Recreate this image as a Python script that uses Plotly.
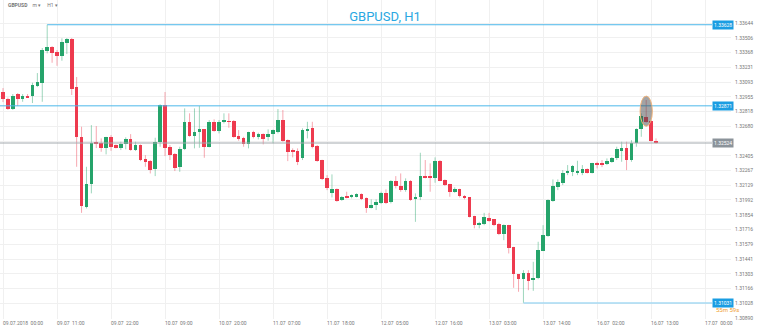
import plotly.graph_objects as go

# ---- data (GBPUSD, H1 candles) ----
opens = [
1.33003, 1.32934, 1.32838, 1.32981, 1.32934, 1.32960, 1.32962, 1.33059, 1.33081, 1.33385,
1.33417, 1.33371, 1.33339, 1.33460, 1.33495, 1.33044, 1.32582, 1.31928, 1.32138, 1.32526,
1.32526, 1.32479, 1.32582, 1.32502, 1.32479, 1.32511, 1.32558, 1.32458, 1.32505, 1.32371,
1.32355, 1.32281, 1.32530, 1.32876, 1.32483, 1.32421, 1.32296, 1.32465, 1.32717, 1.32589,
1.32623, 1.32651, 1.32489, 1.32722, 1.32638, 1.32717, 1.32729, 1.32732, 1.32589, 1.32567,
1.32514, 1.32623, 1.32577, 1.32607, 1.32577, 1.32605, 1.32629, 1.32738, 1.32551, 1.32451,
1.32451, 1.32380, 1.32638, 1.32661, 1.32495, 1.32365, 1.32194, 1.32054, 1.32091, 1.31991,
1.32028, 1.32016, 1.32028, 1.32044, 1.32013, 1.31919, 1.31944, 1.31966, 1.32059, 1.31975,
1.32168, 1.32125, 1.32084, 1.32171, 1.31998, 1.32016, 1.32215, 1.32215, 1.32199, 1.32355,
1.32178, 1.32140, 1.32069, 1.32094, 1.32028, 1.32016, 1.31842, 1.31757, 1.31767, 1.31820,
1.31811, 1.31764, 1.31673, 1.31757, 1.31549, 1.31297, 1.31253, 1.31306, 1.31244, 1.31260,
1.31517, 1.31655, 1.31982, 1.32115, 1.32153, 1.32240, 1.32255, 1.32240, 1.32246, 1.32278,
1.32246, 1.32334, 1.32339, 1.32327, 1.32349, 1.32380, 1.32458, 1.32474, 1.32365, 1.32521,
1.32651, 1.32769, 1.32729, 1.32545]

closes = [
1.32932, 1.32841, 1.32962, 1.32932, 1.32962, 1.32950, 1.33062, 1.33090, 1.33392, 1.33417,
1.33367, 1.33339, 1.33464, 1.33492, 1.33025, 1.32582, 1.31938, 1.32140, 1.32526, 1.32517,
1.32474, 1.32577, 1.32489, 1.32479, 1.32514, 1.32558, 1.32458, 1.32505, 1.32365, 1.32346,
1.32271, 1.32530, 1.32878, 1.32481, 1.32411, 1.32290, 1.32467, 1.32717, 1.32589, 1.32629,
1.32651, 1.32489, 1.32722, 1.32635, 1.32722, 1.32738, 1.32722, 1.32582, 1.32558, 1.32511,
1.32623, 1.32577, 1.32607, 1.32561, 1.32607, 1.32645, 1.32738, 1.32545, 1.32442, 1.32442,
1.32349, 1.32645, 1.32654, 1.32489, 1.32358, 1.32184, 1.32100, 1.32091, 1.31984, 1.32016,
1.32013, 1.32035, 1.32044, 1.32000, 1.31919, 1.31944, 1.31972, 1.32059, 1.31966, 1.32171,
1.32125, 1.32084, 1.32171, 1.31991, 1.32022, 1.32215, 1.32206, 1.32199, 1.32355, 1.32171,
1.32131, 1.32069, 1.32097, 1.32028, 1.32007, 1.31835, 1.31757, 1.31779, 1.31829, 1.31804,
1.31757, 1.31673, 1.31757, 1.31540, 1.31297, 1.31253, 1.31306, 1.31237, 1.31265, 1.31524,
1.31664, 1.31991, 1.32125, 1.32162, 1.32246, 1.32262, 1.32311, 1.32262, 1.32278, 1.32246,
1.32334, 1.32324, 1.32327, 1.32358, 1.32380, 1.32465, 1.32474, 1.32365, 1.32521, 1.32651,
1.32776, 1.32722, 1.32542, 1.32524]

highs = [
1.33037, 1.32948, 1.32981, 1.32990, 1.32981, 1.32981, 1.33087, 1.33177, 1.33411, 1.33628,
1.33429, 1.33392, 1.33501, 1.33504, 1.33504, 1.33140, 1.32676, 1.32302, 1.32691, 1.32682,
1.32567, 1.32582, 1.32598, 1.32511, 1.32536, 1.32577, 1.32607, 1.32536, 1.32511, 1.32411,
1.32365, 1.32573, 1.32885, 1.33000, 1.32505, 1.32430, 1.32489, 1.32847, 1.32801, 1.32847,
1.32869, 1.32654, 1.32738, 1.32745, 1.32738, 1.32801, 1.32801, 1.32738, 1.32645, 1.32582,
1.32629, 1.32638, 1.32620, 1.32614, 1.32651, 1.32650, 1.32841, 1.32832, 1.32558, 1.32474,
1.32474, 1.32661, 1.32722, 1.32722, 1.32505, 1.32368, 1.32224, 1.32231, 1.32100, 1.32028,
1.32069, 1.32044, 1.32054, 1.32054, 1.32016, 1.31998, 1.31998, 1.32069, 1.32091, 1.32178,
1.32215, 1.32240, 1.32194, 1.32178, 1.32054, 1.32433, 1.32365, 1.32334, 1.32390, 1.32365,
1.32184, 1.32143, 1.32110, 1.32097, 1.32038, 1.32020, 1.31845, 1.31788, 1.31872, 1.31872,
1.31814, 1.31779, 1.31764, 1.31760, 1.31555, 1.31300, 1.31337, 1.31337, 1.31415, 1.31602,
1.31757, 1.31998, 1.32184, 1.32184, 1.32271, 1.32318, 1.32318, 1.32358, 1.32318, 1.32287,
1.32339, 1.32349, 1.32365, 1.32380, 1.32393, 1.32489, 1.32536, 1.32536, 1.32551, 1.32661,
1.32801, 1.32925, 1.32738, 1.32567]

lows = [
1.32906, 1.32832, 1.32832, 1.32869, 1.32909, 1.32945, 1.32897, 1.33046, 1.32909, 1.33361,
1.33273, 1.33245, 1.33292, 1.33355, 1.32972, 1.32302, 1.31872, 1.31913, 1.32054, 1.32477,
1.32442, 1.32418, 1.32451, 1.32474, 1.32458, 1.32465, 1.32451, 1.32449, 1.32355, 1.32302,
1.32240, 1.32215, 1.32489, 1.32402, 1.32365, 1.32262, 1.32255, 1.32458, 1.32582, 1.32474,
1.32479, 1.32386, 1.32483, 1.32629, 1.32614, 1.32707, 1.32666, 1.32573, 1.32545, 1.32489,
1.32474, 1.32567, 1.32558, 1.32511, 1.32545, 1.32521, 1.32614, 1.32536, 1.32355, 1.32390,
1.32318, 1.32365, 1.32567, 1.32474, 1.32349, 1.32178, 1.32084, 1.32016, 1.31975, 1.31984,
1.32007, 1.32007, 1.32016, 1.31991, 1.31872, 1.31913, 1.31898, 1.31954, 1.31954, 1.31960,
1.32100, 1.32069, 1.32069, 1.31984, 1.31788, 1.31991, 1.32194, 1.32069, 1.32153, 1.32168,
1.32122, 1.32022, 1.32059, 1.32016, 1.31998, 1.31829, 1.31727, 1.31727, 1.31757, 1.31788,
1.31748, 1.31664, 1.31617, 1.31493, 1.31172, 1.31135, 1.31031, 1.31150, 1.31144, 1.31253,
1.31515, 1.31648, 1.31975, 1.32084, 1.32131, 1.32224, 1.32215, 1.32224, 1.32224, 1.32240,
1.32240, 1.32287, 1.32299, 1.32318, 1.32339, 1.32365, 1.32349, 1.32271, 1.32349, 1.32489,
1.32582, 1.32713, 1.32536, 1.32518]

level_price = 1.32871
highlight_idx = 131

x_tick_idx = [0, 11, 22, 33, 44, 55, 66, 77, 88, 99, 110, 121, 132, 143]
x_tick_text = ["09.07.2018  00:00", "09.07  11:00", "09.07  22:00", "10.07  09:00",
               "10.07  20:00", "11.07  07:00", "11.07  18:00", "12.07  05:00",
               "12.07  16:00", "13.07  03:00", "13.07  14:00", "16.07  02:00",
               "16.07  13:00", "17.07  00:00"]

y_tick_vals = [1.33644, 1.33506, 1.33368, 1.33231, 1.33093, 1.32955, 1.32818, 1.32680,
               1.32542, 1.32405, 1.32267, 1.32129, 1.31992, 1.31854, 1.31716, 1.31579,
               1.31441, 1.31303, 1.31166, 1.31028, 1.30890]
y_tick_text = ["1.33644", "1.33506", "1.33368", "1.33231", "1.33093", "1.32955", "1.32818",
               "1.32680", "", "1.32405", "1.32267", "1.32129", "1.31992", "1.31854",
               "1.31716", "1.31579", "1.31441", "1.31303", "1.31166", "1.31028", "1.30890"]

timer_text = "55m 59s"

# ---- styles ----
GREEN = "#26a46b"
RED = "#ee3b4f"
GREEN_W = "rgba(38,164,107,0.45)"
RED_W = "rgba(238,59,79,0.45)"
BLUE = "#4db8ea"
BOX_BLUE = "#1a9de2"
GRID = "#f0f0f0"
FONT = "Roboto"

n = min(len(opens), len(closes), len(highs), len(lows))
idx = list(range(n))

fig = go.Figure()

for up, wcol in [(True, GREEN_W), (False, RED_W)]:
    sel = [i for i in idx if (closes[i] >= opens[i]) == up]
    wx, wy = [], []
    for i in sel:
        wx += [i, i, None]
        wy += [lows[i], highs[i], None]
    fig.add_trace(go.Scatter(x=wx, y=wy, mode="lines", line=dict(color=wcol, width=1),
                             hoverinfo="skip", showlegend=False))
for up, bcol in [(True, GREEN), (False, RED)]:
    sel = [i for i in idx if (closes[i] >= opens[i]) == up]
    fig.add_trace(go.Bar(
        x=sel,
        base=[min(opens[i], closes[i]) for i in sel],
        y=[max(abs(closes[i] - opens[i]), 0.000018) for i in sel],
        width=0.74, marker=dict(color=bcol, line=dict(width=0)),
        showlegend=False, hoverinfo="skip"))

X_LEFT = -0.61
X_RIGHT = 148.27
X_BOX = 144.4

hi_i = max(idx, key=lambda i: highs[i])
lo_i = min(idx, key=lambda i: lows[i])
hi_v = highs[hi_i]
lo_v = lows[lo_i]
last_v = closes[n - 1]

shapes = [
    dict(type="line", xref="x", yref="y", x0=hi_i, x1=X_BOX, y0=hi_v, y1=hi_v,
         line=dict(color=BLUE, width=1)),
    dict(type="line", xref="x", yref="y", x0=lo_i, x1=X_BOX, y0=lo_v, y1=lo_v,
         line=dict(color="#a6daf3", width=1.5)),
    dict(type="line", xref="x", yref="y", x0=X_LEFT, x1=X_BOX, y0=level_price, y1=level_price,
         line=dict(color=BLUE, width=1)),
    dict(type="line", xref="x", yref="y", x0=X_LEFT, x1=X_BOX, y0=last_v, y1=last_v,
         line=dict(color="#a3a9ae", width=1)),
    dict(type="circle", xref="x", yref="y",
         x0=highlight_idx - 1.25, x1=highlight_idx + 1.25,
         y0=lows[highlight_idx] - 0.00033, y1=highs[highlight_idx] + 0.00037,
         fillcolor="rgba(70,72,76,0.5)", line=dict(color="#f2b47a", width=1)),
]

def box(y, text, color):
    return dict(x=X_BOX, y=y, xref="x", yref="y", xanchor="left", yanchor="middle",
                text=text, showarrow=False, bgcolor=color, borderpad=1,
                font=dict(family=FONT, size=5, color="white"))

annotations = [
    box(hi_v, f"{hi_v:.5f}", BOX_BLUE),
    box(level_price, f"{level_price:.5f}", BOX_BLUE),
    box(lo_v, f"{lo_v:.5f}", BOX_BLUE),
    box(last_v, f"{last_v:.5f}", "#8b939a"),
    dict(x=X_BOX + 0.5, y=lo_v, xref="x", yref="y", xanchor="left", yanchor="middle",
         yshift=-7, text=timer_text, showarrow=False,
         font=dict(family=FONT, size=6, color="#f0a030")),
    dict(x=0.008, y=0.985, xref="paper", yref="paper", xanchor="left",
         yanchor="middle", showarrow=False,
         text="<b>GBPUSD</b>    m ▾     H1 ▾",
         font=dict(family=FONT, size=5, color="#777")),
]

fig.update_layout(
    width=760, height=331,
    margin=dict(l=0, r=29, t=0, b=12),
    paper_bgcolor="white", plot_bgcolor="white",
    barmode="overlay", bargap=0,
    showlegend=False,
    title=dict(text="GBPUSD, H1", x=385 / 760, xref="container", xanchor="center",
               y=1 - 16 / 331, yref="container", yanchor="middle",
               font=dict(family=FONT, size=13, color="#2aa7e2")),
    xaxis=dict(range=[X_LEFT, X_RIGHT], tickvals=x_tick_idx, ticktext=x_tick_text,
               ticklabelposition="outside right", ticks="", showline=False,
               zeroline=False, showgrid=True, gridcolor=GRID, gridwidth=1,
               tickfont=dict(family=FONT, size=5, color="#777")),
    yaxis=dict(range=[1.30881, 1.33859], side="right", tickvals=y_tick_vals,
               ticktext=y_tick_text, ticks="", showline=False, zeroline=False,
               showgrid=True, gridcolor=GRID, gridwidth=1,
               ticklabelstandoff=3,
               tickfont=dict(family=FONT, size=5, color="#777")),
    shapes=shapes,
    annotations=annotations,
)

fig.write_html("out.html")
